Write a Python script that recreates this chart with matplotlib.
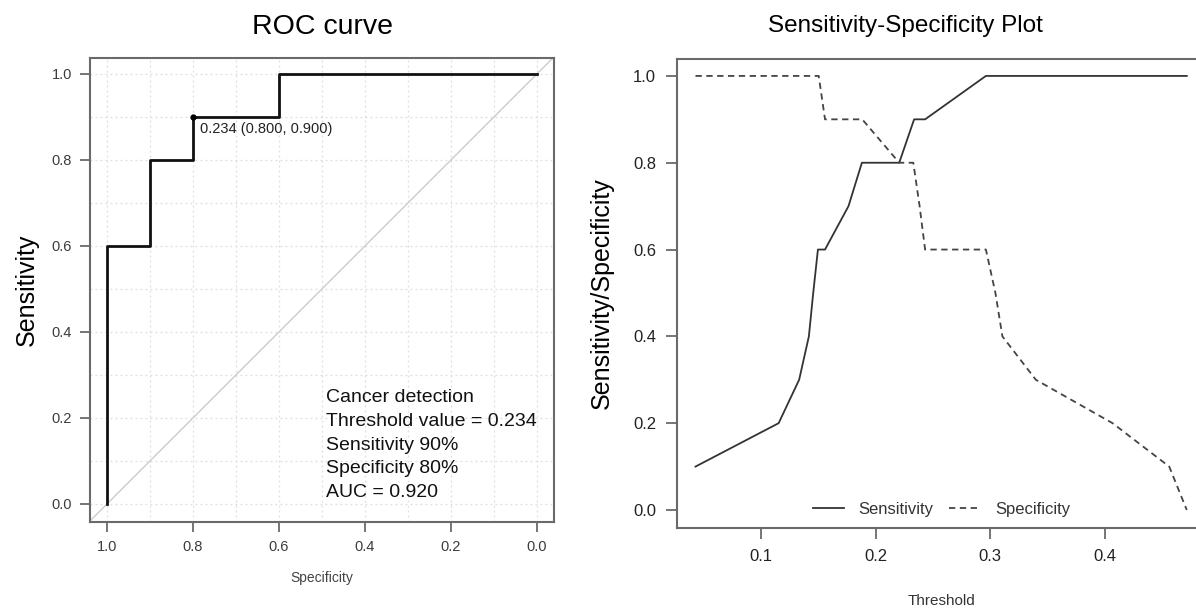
import matplotlib
matplotlib.use("Agg")
import matplotlib.pyplot as plt

plt.rcParams['font.family'] = ['Liberation Sans', 'DejaVu Sans']

# ROC curve (specificity, sensitivity) steps
roc_spec = [1.0, 1.0, 0.9, 0.9, 0.8, 0.8, 0.6, 0.6, 0.0]
roc_sens = [0.0, 0.6, 0.6, 0.8, 0.8, 0.9, 0.9, 1.0, 1.0]
best_thr = 0.234
best_spec = 0.800
best_sens = 0.900
auc = 0.920

# Sensitivity / specificity against threshold
sens_thr = [0.0428, 0.1154, 0.1333, 0.1418, 0.1456, 0.1497, 0.1559, 0.1764,
            0.1881, 0.2207, 0.2337, 0.2433, 0.2964, 0.4718]
sens_val = [0.1, 0.2, 0.3, 0.4, 0.5, 0.6, 0.6, 0.7, 0.8, 0.8, 0.9, 0.9, 1.0, 1.0]
spec_thr = [0.0428, 0.1504, 0.1559, 0.1884, 0.2207, 0.2330, 0.2385, 0.2433,
            0.2964, 0.3047, 0.3108, 0.3400, 0.4070, 0.4565, 0.4718]
spec_val = [1.0, 1.0, 0.9, 0.9, 0.8, 0.8, 0.7, 0.6, 0.6, 0.5, 0.4, 0.3, 0.2, 0.1, 0.0]

W, H = 1196, 611
fig = plt.figure(figsize=(W / 100, H / 100), dpi=100)

box_col = '#6a6a6a'
tick_col = '#3c3c3c'

# ---- ROC curve ----
ax1 = fig.add_axes([90 / W, (H - 522) / H, 464 / W, 464 / H])
ax1.set_xlim(1.0395, -0.0395)
ax1.set_ylim(-0.0419, 1.037)
for v in [i / 10 for i in range(11)]:
    ax1.axvline(v, color='#dedede', lw=0.9, ls=(0, (1.5, 2.5)), zorder=0)
    ax1.axhline(v, color='#dedede', lw=0.9, ls=(0, (1.5, 2.5)), zorder=0)
ax1.axline((1, 0), (0, 1), color='#cccccc', lw=1.0, zorder=1)
ax1.plot(roc_spec, roc_sens, color='#111111', lw=2.0, zorder=3)
ax1.plot([best_spec], [best_sens], 'o', color='black', ms=3.5, zorder=4)
ax1.annotate(f"{best_thr:.3f} ({best_spec:.3f}, {best_sens:.3f})",
             (best_spec, best_sens), xytext=(5, -9), textcoords='offset points',
             fontsize=10.5, color='#222222', ha='left', va='center')
ax1.text(0.49, 0.268,
         "Cancer detection\nThreshold value = 0.234\n"
         f"Sensitivity {best_sens:.0%}\nSpecificity {best_spec:.0%}\nAUC = {auc:.3f}",
         fontsize=14, color='#111111', ha='left', va='top', linespacing=1.53)
ax1.set_xticks([1.0, 0.8, 0.6, 0.4, 0.2, 0.0])
ax1.set_yticks([0.0, 0.2, 0.4, 0.6, 0.8, 1.0])
ax1.set_xticklabels(['1.0', '0.8', '0.6', '0.4', '0.2', '0.0'])
ax1.set_yticklabels(['0.0', '0.2', '0.4', '0.6', '0.8', '1.0'])
ax1.tick_params(length=7, width=1.3, color=box_col, labelcolor=tick_col,
                labelsize=10.5, pad=6)
for s in ax1.spines.values():
    s.set_color(box_col)
    s.set_linewidth(1.5)
ax1.set_xlabel('Specificity', fontsize=10, color='#444444', labelpad=12)
ax1.set_ylabel('Sensitivity', fontsize=18, color='black', labelpad=9)
ax1.set_title('ROC curve', fontsize=20.5, pad=17)

# ---- Sensitivity-Specificity plot ----
ax2 = fig.add_axes([677 / W, (H - 528) / H, 529 / W, 469 / H])
ax2.set_xlim(0.02664, 0.4886)
ax2.set_ylim(-0.0415, 1.039)
ax2.plot(sens_thr, sens_val, color='#333333', lw=1.3, label='Sensitivity')
ax2.plot(spec_thr, spec_val, color='#444444', lw=1.3, ls=(0, (3.5, 2.5)),
         label='Specificity')
ax2.set_xticks([0.1, 0.2, 0.3, 0.4])
ax2.set_yticks([0.0, 0.2, 0.4, 0.6, 0.8, 1.0])
ax2.set_xticklabels(['0.1', '0.2', '0.3', '0.4'])
ax2.set_yticklabels(['0.0', '0.2', '0.4', '0.6', '0.8', '1.0'])
ax2.tick_params(length=8, width=1.3, color=box_col, labelcolor='#222222',
                labelsize=12, pad=7)
for s in ax2.spines.values():
    s.set_color(box_col)
    s.set_linewidth(1.5)
ax2.set_xlabel('Threshold', fontsize=11, color='#333333', labelpad=22)
ax2.set_ylabel('Sensitivity/Specificity', fontsize=18, color='black', labelpad=14)
fig.text(905 / W, 1 - 26 / H, 'Sensitivity-Specificity Plot', fontsize=17.5,
         ha='center', va='center')
ax2.legend(loc='center', bbox_to_anchor=(0.5, 0.04), ncol=2, frameon=False,
           fontsize=12, handlelength=1.9, columnspacing=0.95, handletextpad=0.85,
           labelcolor='#333333')

fig.savefig('out.png', dpi=100)
